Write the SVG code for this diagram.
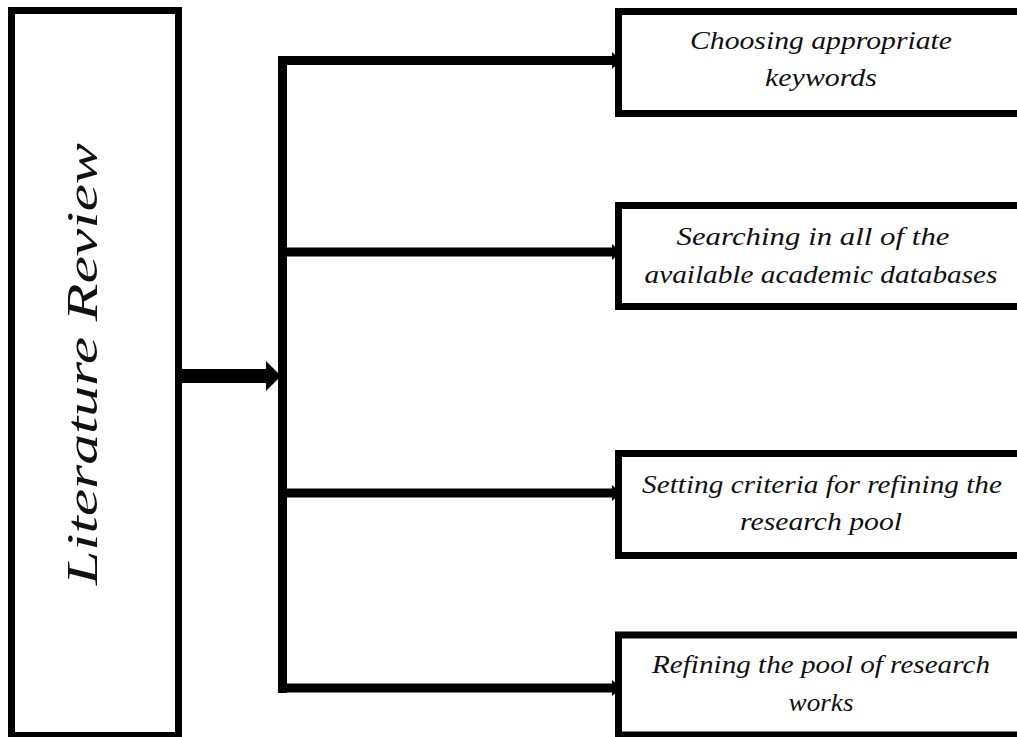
<svg xmlns="http://www.w3.org/2000/svg" width="1017" height="737" viewBox="0 0 1017 737">
<style>
.box{fill:#fff;stroke:#000;stroke-width:7}
.ln{stroke:#000;stroke-width:9;fill:none}
.t{font-family:'Liberation Serif',serif;font-style:italic;font-size:25px;fill:#111;text-anchor:middle}
.big{font-family:'Liberation Serif',serif;font-style:italic;font-size:44px;fill:#111;text-anchor:middle}
</style>
<rect width="1017" height="737" fill="#fff"/>
<g id="connectors">
<rect x="278" y="56" width="9" height="637" fill="#000"/>
<path class="ln" d="M278 60.5H614M278 252H614M278 493H614M278 688H614"/>
<polygon points="612,52 621,60.5 612,69" fill="#000"/>
<polygon points="612,244 621,252 612,260" fill="#000"/>
<polygon points="612,485 621,493 612,501" fill="#000"/>
<polygon points="612,680 621,688 612,696" fill="#000"/>
<rect x="182" y="369" width="86" height="14" fill="#000"/>
<polygon points="266,361 281,376 266,391" fill="#000"/>
</g>
<g id="literature-review">
<rect class="box" x="11.5" y="10.5" width="167" height="725"/>
<text class="big" transform="translate(97,364) rotate(-90)" textLength="442" lengthAdjust="spacingAndGlyphs">Literature Review</text>
</g>
<g id="keywords">
<rect class="box" x="618.5" y="11.5" width="420" height="102"/>
<text class="t" x="821" y="49" textLength="262" lengthAdjust="spacingAndGlyphs">Choosing appropriate</text>
<text class="t" x="821" y="86" textLength="112" lengthAdjust="spacingAndGlyphs">keywords</text>
</g>
<g id="searching">
<rect class="box" x="618.5" y="205.5" width="420" height="101"/>
<text class="t" x="813" y="245" textLength="273" lengthAdjust="spacingAndGlyphs">Searching in all of the</text>
<text class="t" x="821" y="283" textLength="353" lengthAdjust="spacingAndGlyphs">available academic databases</text>
</g>
<g id="criteria">
<rect class="box" x="618.5" y="453.5" width="420" height="102"/>
<text class="t" x="822" y="493" textLength="360" lengthAdjust="spacingAndGlyphs">Setting criteria for refining the</text>
<text class="t" x="821" y="530" textLength="162" lengthAdjust="spacingAndGlyphs">research pool</text>
</g>
<g id="refining">
<rect class="box" x="618.5" y="635" width="420" height="100"/>
<text class="t" x="821" y="673" textLength="338" lengthAdjust="spacingAndGlyphs">Refining the pool of research</text>
<text class="t" x="821" y="711" textLength="65" lengthAdjust="spacingAndGlyphs">works</text>
</g>
</svg>
